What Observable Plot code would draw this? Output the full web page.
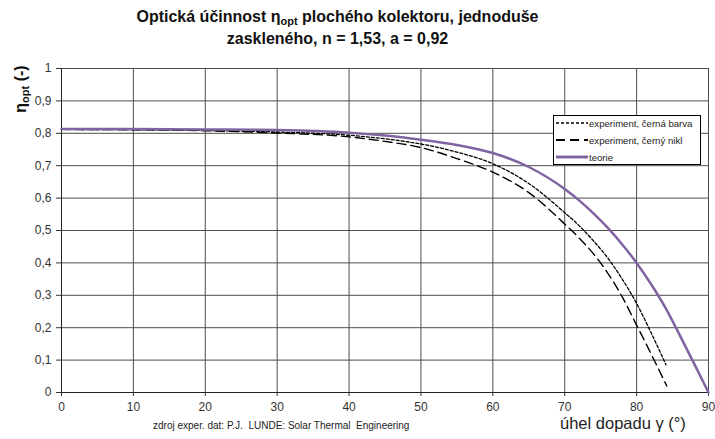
<!DOCTYPE html>
<html>
<head>
<meta charset="utf-8">
<script src="https://cdn.jsdelivr.net/npm/d3@7"></script>
<script src="https://cdn.jsdelivr.net/npm/@observablehq/plot@0.6"></script>
<style>
  body { margin: 0; background: #fff; }
  #wrap { position: relative; width: 715px; height: 439px; font-family: "Liberation Sans", Arial, sans-serif; color: #222; }
  #wrap svg.plot { position: absolute; left: 0; top: 0; }
  .title { position: absolute; left: 100px; width: 475px; top: 6px; text-align: center; font-weight: bold; font-size: 16px; line-height: 22px; color: #111; }
  .title sub { font-size: 11px; vertical-align: -3px; line-height: 0; }
  .ylab { position: absolute; left: 21px; top: 89px; transform: translate(-50%, -50%) rotate(-90deg); font-weight: bold; font-size: 16px; white-space: nowrap; color: #111; }
  .ylab sub { font-size: 11px; vertical-align: -3px; line-height: 0; }
  .xlab { position: absolute; left: 560px; top: 415px; font-size: 16.5px; line-height: 17px; white-space: nowrap; color: #222; }
  .caption { position: absolute; left: 153px; top: 420px; font-size: 10px; line-height: 12px; white-space: pre; color: #222; }
  .legend { position: absolute; left: 553px; top: 115px; width: 146px; height: 48px; border: 1px solid #000; background: #fff; font-size: 9.6px; }
  .legend .row { position: absolute; left: 1px; height: 12px; display: flex; align-items: center; white-space: nowrap; }
  .legend svg { margin-right: 1px; }
</style>
</head>
<body>
<div id="wrap">
  <div class="title">Optická účinnost η<sub>opt</sub> plochého kolektoru, jednoduše<br>zaskleného, n = 1,53, a = 0,92</div>
  <div class="ylab">η<sub>opt</sub> (-)</div>
  <div class="xlab">úhel dopadu γ (°)</div>
  <div class="caption">zdroj exper. dat: P.J.  LUNDE: Solar Thermal  Engineering</div>
</div>
<script>
// ---- data ----
const seriesNames = ["experiment, černá barva", "experiment, černý nikl", "teorie"];

const barvaAngle = [0, 10, 20, 30, 40, 45, 50, 55, 60, 65, 70, 72, 74, 76, 78, 80, 82, 84.1];
const barvaEta   = [0.812, 0.811, 0.809, 0.804, 0.794, 0.783, 0.767, 0.742, 0.706, 0.645, 0.555, 0.515, 0.468, 0.415, 0.350, 0.275, 0.185, 0.085];

const niklAngle = [0, 10, 20, 30, 40, 45, 50, 55, 60, 65, 70, 72, 74, 76, 78, 80, 82, 84.2];
const niklEta   = [0.812, 0.811, 0.808, 0.801, 0.789, 0.775, 0.756, 0.722, 0.680, 0.617, 0.520, 0.477, 0.428, 0.368, 0.295, 0.208, 0.120, 0.020];

const teorieAngle = [0, 10, 20, 30, 40, 45, 50, 55, 60, 65, 70, 72, 74, 76, 78, 80, 82, 84, 86, 88, 90];
const teorieEta   = [0.813, 0.813, 0.812, 0.810, 0.802, 0.793, 0.780, 0.764, 0.739, 0.696, 0.628, 0.593, 0.553, 0.508, 0.457, 0.400, 0.335, 0.262, 0.177, 0.089, 0.000];

const xTicks = [0, 10, 20, 30, 40, 50, 60, 70, 80, 90];
const yTicks = [0, 0.1, 0.2, 0.3, 0.4, 0.5, 0.6, 0.7, 0.8, 0.9, 1];

const styles = [
  {stroke: "#000", strokeWidth: 1.3, dash: "3,2"},
  {stroke: "#000", strokeWidth: 1.4, dash: "9,5"},
  {stroke: "#8064a2", strokeWidth: 2.5, dash: null}
];

const toRows = (xs, ys) => xs.map((x, i) => ({x, y: ys[i]}));
const barva = toRows(barvaAngle, barvaEta);
const nikl = toRows(niklAngle, niklEta);
const teorie = toRows(teorieAngle, teorieEta);

const fmtY = d => (d === 0 ? "0" : d === 1 ? "1" : d.toFixed(1).replace(".", ","));

const chart = Plot.plot({
  width: 715,
  height: 439,
  marginLeft: 61,
  marginRight: 7,
  marginTop: 68,
  marginBottom: 47,
  style: {fontFamily: "'Liberation Sans', Arial, sans-serif", fontSize: "12px", color: "#333", background: "transparent"},
  x: {domain: [0, 90], label: null},
  y: {domain: [0, 1], label: null},
  marks: [
    Plot.gridX(xTicks, {stroke: "#4d4d4d", strokeOpacity: 1, strokeWidth: 1}),
    Plot.gridY(yTicks, {stroke: "#4d4d4d", strokeOpacity: 1, strokeWidth: 1}),
    Plot.axisX(xTicks, {tickSize: 4, tickPadding: 6, tickFormat: d => String(d), fontSize: 12, label: null}),
    Plot.axisY(yTicks, {tickSize: 5, tickPadding: 5, tickFormat: fmtY, fontSize: 12, label: null}),
    Plot.ruleX([0], {stroke: "#222"}),
    Plot.ruleY([0], {stroke: "#222"}),
    Plot.line(barva, {x: "x", y: "y", curve: "monotone-x", stroke: styles[0].stroke, strokeWidth: styles[0].strokeWidth, strokeDasharray: styles[0].dash}),
    Plot.line(nikl, {x: "x", y: "y", curve: "monotone-x", stroke: styles[1].stroke, strokeWidth: styles[1].strokeWidth, strokeDasharray: styles[1].dash}),
    Plot.line(teorie, {x: "x", y: "y", curve: "monotone-x", stroke: styles[2].stroke, strokeWidth: styles[2].strokeWidth})
  ]
});
chart.classList.add("plot");
const wrap = document.getElementById("wrap");
wrap.insertBefore(chart, wrap.firstChild);

// legend
const legend = document.createElement("div");
legend.className = "legend";
const rowTops = [1, 18, 35];
seriesNames.forEach((name, i) => {
  const row = document.createElement("div");
  row.className = "row";
  row.style.top = rowTops[i] + "px";
  const s = styles[i];
  row.innerHTML = `<svg width="33" height="10"><line x1="1" x2="33" y1="5" y2="5" stroke="${s.stroke}" stroke-width="${s.strokeWidth + 0.4}" ${s.dash ? `stroke-dasharray="${s.dash}"` : ""}/></svg><span>${name}</span>`;
  legend.appendChild(row);
});
wrap.appendChild(legend);
</script>
</body>
</html>
